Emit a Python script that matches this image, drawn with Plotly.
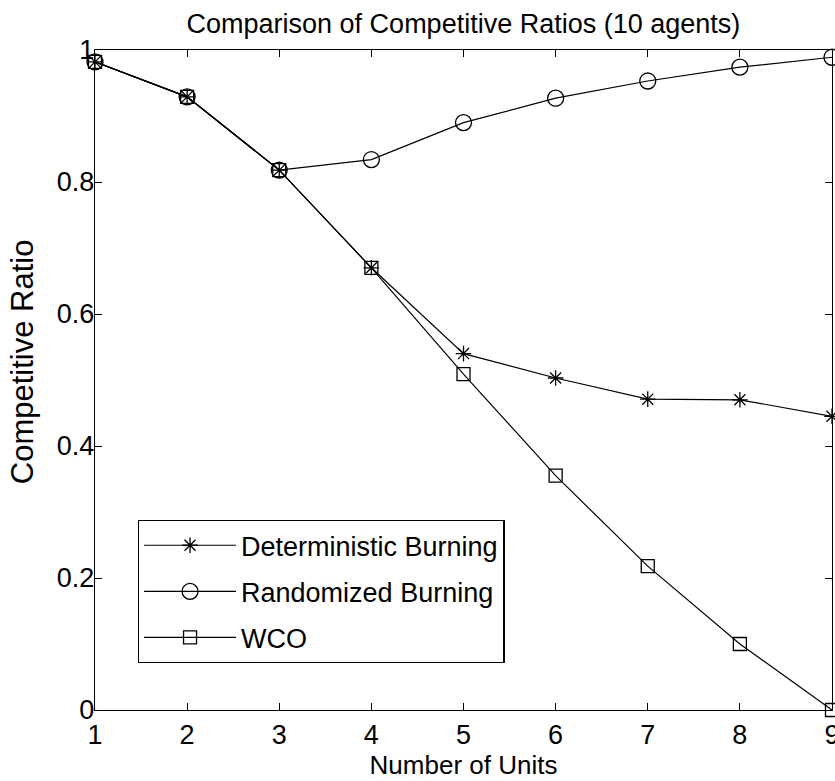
import plotly.graph_objects as go

units = [1, 2, 3, 4, 5, 6, 7, 8, 9]
deterministic = [0.982, 0.929, 0.818, 0.670, 0.540, 0.503, 0.471, 0.470, 0.445]
randomized = [0.982, 0.929, 0.818, 0.834, 0.890, 0.927, 0.953, 0.974, 0.989]
wco = [0.982, 0.929, 0.818, 0.670, 0.509, 0.355, 0.218, 0.100, 0.0]

x_ticks = [1, 2, 3, 4, 5, 6, 7, 8, 9]
y_ticks = [0, 0.2, 0.4, 0.6, 0.8, 1]
y_tick_text = ["0", "0.2", "0.4", "0.6", "0.8", "1"]

FONT = "Liberation Sans, Arial, sans-serif"

series = [
    ("Deterministic Burning", deterministic, "asterisk-open", 13),
    ("Randomized Burning", randomized, "circle-open", 16),
    ("WCO", wco, "square-open", 13),
]

fig = go.Figure()
for name, values, symbol, size in series:
    fig.add_trace(go.Scatter(
        x=units, y=values, name=name, legendgroup=name, mode="lines+markers",
        line=dict(color="black", width=1.2),
        marker=dict(symbol=symbol, size=size, color="black",
                    line=dict(color="black", width=1.3)),
        cliponaxis=False,
    ))

axis_common = dict(
    showline=True, linecolor="black", linewidth=1.4, mirror="ticks",
    ticks="inside", ticklen=7, tickcolor="black", tickwidth=1,
    showgrid=False, zeroline=False, automargin=False,
    tickfont=dict(family=FONT, size=27, color="black"),
)

fig.update_layout(
    width=835, height=781,
    margin=dict(l=95, r=3, t=50, b=71),
    paper_bgcolor="white", plot_bgcolor="white",
    title=dict(text="Comparison of Competitive Ratios (10 agents)",
               x=0.555, xanchor="center", y=0.970, yanchor="middle",
               font=dict(family=FONT, size=27, color="black")),
    xaxis=dict(range=[1, 9], tickvals=x_ticks, ticklabeloverflow="allow",
               title=dict(text="Number of Units", standoff=5,
                          font=dict(family=FONT, size=26, color="black")),
               **axis_common),
    yaxis=dict(range=[0, 1], tickvals=y_ticks, ticktext=y_tick_text,
               ticklabelstandoff=-6, **axis_common),
    legend=dict(x=0.058, y=0.288, xanchor="left", yanchor="top",
                bgcolor="white", bordercolor="black", borderwidth=1.3,
                itemwidth=92, tracegroupgap=8,
                entrywidth=305, entrywidthmode="pixels",
                font=dict(family=FONT, size=27, color="black")),
    showlegend=True,
)

# y-axis title, placed as a rotated annotation left of the tick labels
fig.add_annotation(
    text="Competitive Ratio", textangle=-90,
    xref="paper", yref="paper", x=-0.099, y=0.527,
    xanchor="center", yanchor="middle", showarrow=False,
    font=dict(family=FONT, size=31, color="black"),
)

fig.write_html("out.html")
